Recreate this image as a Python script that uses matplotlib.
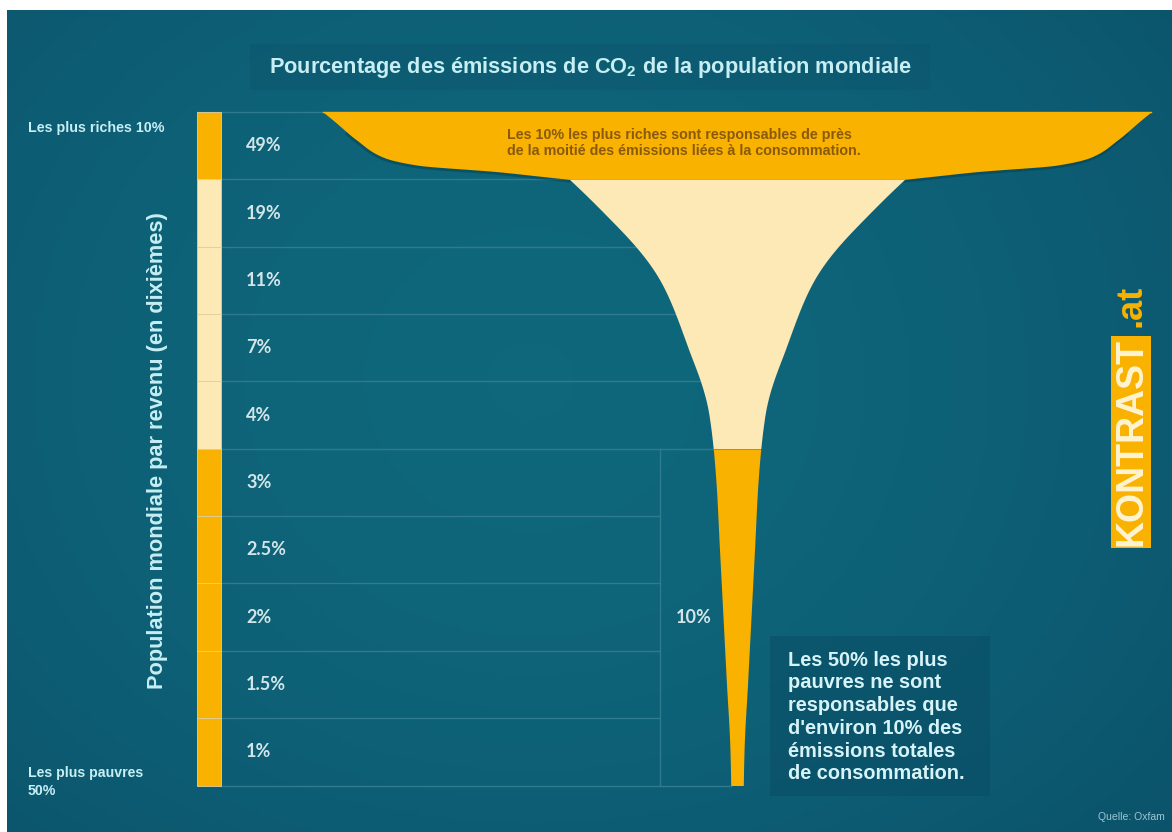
import matplotlib

matplotlib.use("Agg")

import matplotlib.pyplot as plt
import numpy as np
from matplotlib.colors import LinearSegmentedColormap
from matplotlib.patches import Rectangle

plt.rcParams["font.family"] = ["Liberation Sans", "DejaVu Sans"]
plt.rcParams["mathtext.fontset"] = "custom"
plt.rcParams["mathtext.default"] = "bf"
plt.rcParams["mathtext.bf"] = "Liberation Sans:bold"

# data: share of CO2 emissions per income decile, richest first
DECILE_SHARES = [49, 19, 11, 7, 4, 3, 2.5, 2, 1.5, 1]
DECILE_LABELS = ["49%", "19%", "11%", "7%", "4%", "3%", "2.5%", "2%", "1.5%", "1%"]
DECILE_GROUPS = ["top10", "mid40", "mid40", "mid40", "mid40",
                 "low50", "low50", "low50", "low50", "low50"]
BOTTOM_HALF_LABEL = "10%"

TITLE = "Pourcentage des émissions de CO$_2$ de la population mondiale"
YLABEL = "Population mondiale par revenu (en dixièmes)"
TOP_NOTE = ("Les 10% les plus riches sont responsables de près\n"
            "de la moitié des émissions liées à la consommation.")
BOTTOM_NOTE = ("Les 50% les plus\npauvres ne sont\nresponsables que\n"
               "d'environ 10% des\némissions totales\nde consommation.")

# styling / layout (pixel space)
ORANGE = "#f9b200"
CREAM = "#fde9b6"
GROUP_COLORS = {"top10": ORANGE, "mid40": CREAM, "low50": ORANGE}
TEXT_LIGHT = "#c6eef3"
PCT_COLOR = "#d2e5e8"
GRID = "#2f7a8c"
W, H = 1172, 832
Y0, ROW_H = 112, 67.35
CX = 737
PX_PER_PCT = 14.0
BAR_X0, BAR_X1 = 197, 221
SPLIT_X = 660
# rim of the glass for the richest decile (fraction of its width along the row)
RIM_T = [0.0, 0.12, 0.42, 0.67, 0.79, 0.89, 0.95]
RIM_FACTOR = [1.207, 1.178, 1.108, 1.032, 0.93, 0.69, 0.58]


def pchip(xk, yk, xs):
    xk = np.asarray(xk, float)
    yk = np.asarray(yk, float)
    h = np.diff(xk)
    d = np.diff(yk) / h
    m = np.zeros_like(yk)
    for i in range(1, len(xk) - 1):
        if d[i - 1] * d[i] > 0:
            w1 = 2 * h[i] + h[i - 1]
            w2 = h[i] + 2 * h[i - 1]
            m[i] = (w1 + w2) / (w1 / d[i - 1] + w2 / d[i])

    def end_slope(h0, h1, d0, d1):
        s = ((2 * h0 + h1) * d0 - h0 * d1) / (h0 + h1)
        if np.sign(s) != np.sign(d0):
            return 0.0
        if np.sign(d0) != np.sign(d1) and abs(s) > 3 * abs(d0):
            return 3 * d0
        return s

    m[0] = end_slope(h[0], h[1], d[0], d[1])
    m[-1] = end_slope(h[-1], h[-2], d[-1], d[-2])
    idx = np.clip(np.searchsorted(xk, xs) - 1, 0, len(xk) - 2)
    t = (xs - xk[idx]) / h[idx]
    h00 = 2 * t**3 - 3 * t**2 + 1
    h10 = t**3 - 2 * t**2 + t
    h01 = -2 * t**3 + 3 * t**2
    h11 = t**3 - t**2
    return (h00 * yk[idx] + h10 * h[idx] * m[idx]
            + h01 * yk[idx + 1] + h11 * h[idx] * m[idx + 1])


def funnel_profile():
    half = [s * PX_PER_PCT / 2 for s in DECILE_SHARES]
    joint = half[1] * 1.26
    # rim (richest decile)
    tk_rim = list(RIM_T) + [1.0]
    hk_rim = [half[0] * f for f in RIM_FACTOR] + [joint]
    # stem (other deciles)
    tk_stem = [1.0]
    hk_stem = [joint]
    for i in range(1, len(DECILE_SHARES)):
        tk_stem.append(i + 0.5)
        hk_stem.append(half[i])
    tk_stem.append(len(DECILE_SHARES))
    hk_stem.append(half[-1] * 0.9)

    t_rim = np.linspace(0, 1, 600)
    t_stem = np.linspace(1, len(DECILE_SHARES), 1800)[1:]
    h_rim = np.exp(pchip(tk_rim, np.log(hk_rim), t_rim))
    h_stem = np.exp(pchip(tk_stem, np.log(hk_stem), t_stem))
    return np.concatenate([t_rim, t_stem]), np.concatenate([h_rim, h_stem])


def row_y(t):
    return Y0 + t * ROW_H


fig = plt.figure(figsize=(W / 100, H / 100), dpi=100, facecolor="white")
ax = fig.add_axes([0, 0, 1, 1])
ax.set_xlim(0, W)
ax.set_ylim(H, 0)
ax.axis("off")

# background panel with soft gradient
gx = np.linspace(0, 1, 300)
gy = np.linspace(0, 1, 200)[:, None]
grad = np.exp(-((gx - 0.45) / 0.7) ** 2) * (1 - 0.3 * (gy - 0.45) ** 2 * 4)
cmap = LinearSegmentedColormap.from_list("bg", ["#0b5269", "#0d5e75", "#0f677b"])
ax.imshow(grad, extent=(7, W, H, 10), cmap=cmap, aspect="auto",
          vmin=0.3, vmax=1.0, zorder=0)
ax.add_patch(Rectangle((250, 44), 680, 46, color="#0b5068", alpha=0.3, lw=0, zorder=1))
ax.add_patch(Rectangle((770, 636), 220, 160, color="#0a4d65", alpha=0.55, lw=0, zorder=1))

ts, half = funnel_profile()
n = len(DECILE_SHARES)
ys = row_y(ts)

# grid lines
ax.plot([BAR_X0, CX - half[0]], [row_y(0), row_y(0)], color=GRID, lw=1, zorder=2)
for i in range(1, n + 1):
    yb = row_y(i)
    hb = np.interp(i, ts, half)
    if DECILE_GROUPS[i - 1] == "low50" and i < n:
        x_end = SPLIT_X
    else:
        x_end = CX - hb
    ax.plot([BAR_X1, x_end], [yb, yb], color=GRID, lw=1, zorder=2)
first_low = DECILE_GROUPS.index("low50")
ax.plot([SPLIT_X, SPLIT_X], [row_y(first_low), row_y(n)], color=GRID, lw=1, zorder=2)

# soft shadow under the rim
rim = (ts >= 0.3) & (ts <= 1.0)
for sgn in (-1, 1):
    ax.plot(CX + sgn * half[rim], ys[rim] + 1.5, color="#073c48", lw=2.5,
            alpha=0.45, zorder=2.5, solid_capstyle="round")

# funnel, one fill per contiguous group
start = 0
for i in range(1, n + 1):
    if i == n or DECILE_GROUPS[i] != DECILE_GROUPS[start]:
        mask = (ts >= start) & (ts <= i)
        ax.fill_betweenx(ys[mask], CX - half[mask], CX + half[mask],
                         color=GROUP_COLORS[DECILE_GROUPS[start]], lw=0, zorder=3)
        start = i
ax.plot([CX - half[0], CX + half[0]], [row_y(0), row_y(0)], color=ORANGE, lw=1, zorder=3)

# left bar and row labels
for i, (grp, lab) in enumerate(zip(DECILE_GROUPS, DECILE_LABELS)):
    ax.add_patch(Rectangle((BAR_X0, row_y(i)), BAR_X1 - BAR_X0, ROW_H,
                           facecolor=GROUP_COLORS[grp], edgecolor="#e2cf9a",
                           lw=0.6, zorder=3))
    ax.text(246, row_y(i + 0.5), lab, color=PCT_COLOR, fontsize=13,
            fontweight="bold", family=["Lato", "DejaVu Sans"],
            va="center", ha="left", zorder=4)

ax.text(694, row_y(7.5), BOTTOM_HALF_LABEL, color=PCT_COLOR,
        fontsize=13, fontweight="bold", family=["Lato", "DejaVu Sans"],
        va="center", ha="center", zorder=4)

# texts
ax.text(590, 67, TITLE, color=TEXT_LIGHT, fontsize=15.7, fontweight="bold",
        ha="center", va="center", zorder=5)
ax.text(28, 128, "Les plus riches 10%", color=TEXT_LIGHT, fontsize=10.3,
        fontweight="bold", ha="left", va="center", zorder=5)
ax.text(28, 782, "Les plus pauvres\n50%", color=TEXT_LIGHT, fontsize=10.2,
        fontweight="bold", ha="left", va="center", linespacing=1.35, zorder=5)
ax.text(157, 451, YLABEL, color=TEXT_LIGHT, fontsize=15.7, fontweight="bold",
        rotation=90, ha="center", va="center", zorder=5)
ax.text(507, 143, TOP_NOTE, color="#8a5a0c", fontsize=10.3, fontweight="bold",
        ha="left", va="center", linespacing=1.25, zorder=5)
ax.text(788, 717, BOTTOM_NOTE, color="#d6f3f7", fontsize=14.4, fontweight="bold",
        ha="left", va="center", linespacing=1.25, zorder=5)

# logo
ax.text(1131, 442, "KONTRAST", color="#fff4d0", fontsize=27, fontweight="bold",
        rotation=90, ha="center", va="center", zorder=5,
        bbox=dict(boxstyle="square,pad=0.05", fc=ORANGE, ec="none"))
ax.text(1131, 306, ".at", color=ORANGE, fontsize=26, fontweight="bold",
        rotation=90, ha="center", va="center", zorder=5)

ax.text(1165, 817, "Quelle: Oxfam", color="#9cc6d2", fontsize=7.5,
        ha="right", va="center", zorder=5)

fig.savefig("out.png", dpi=100, facecolor=fig.get_facecolor())
